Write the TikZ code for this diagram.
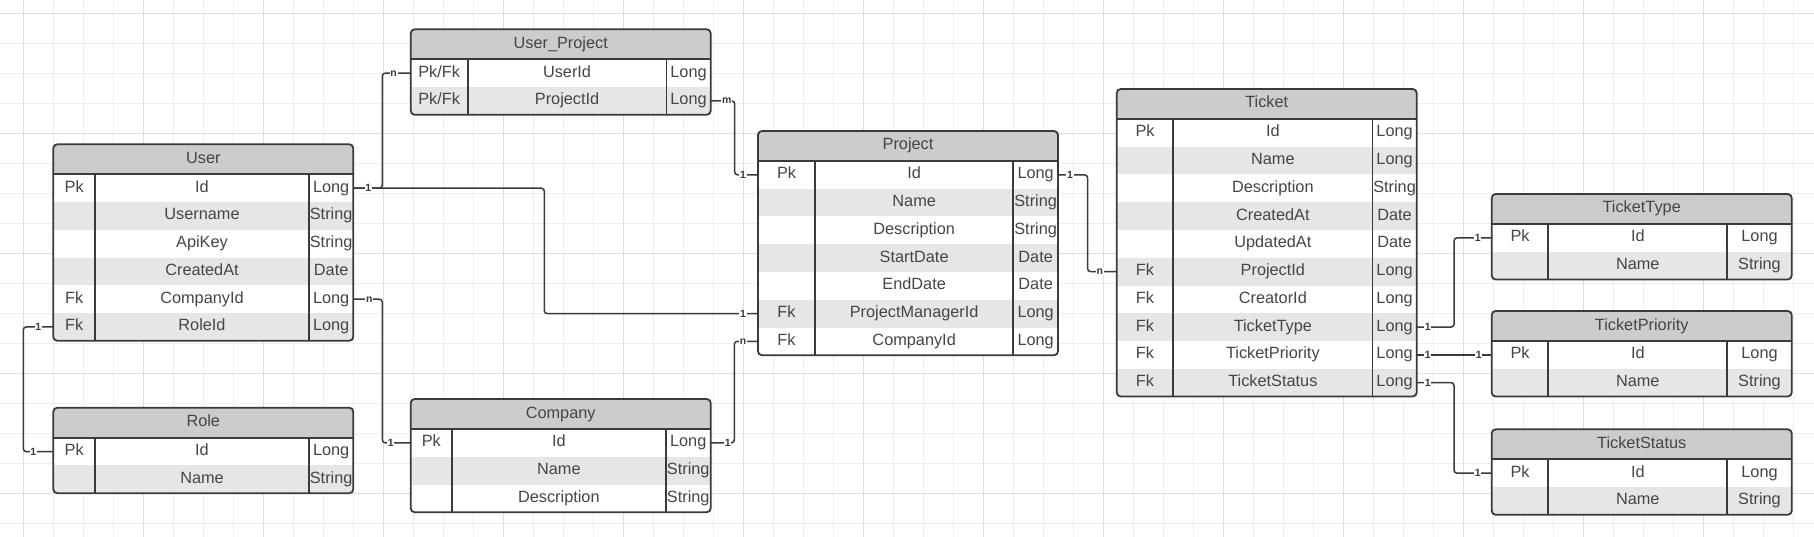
\documentclass[tikz,border=0pt]{standalone}
\usepackage{fontspec}
\setmainfont{Liberation Sans}
\usetikzlibrary{calc}
\definecolor{gridminor}{HTML}{EEEEEE}
\definecolor{gridmajor}{HTML}{DDDDDD}
\definecolor{hdrfill}{HTML}{CCCCCC}
\definecolor{altfill}{HTML}{E6E6E6}
\definecolor{ink}{HTML}{3A3A3A}
\definecolor{txtc}{HTML}{454545}
\newcommand{\erHH}{30}
\newcommand{\erRH}{27.75}
\tikzset{
  border/.style={draw=ink, line width=1.8pt},
  txt/.style={font=\fontsize{16.3}{19}\selectfont, text=txtc, inner sep=0pt, text height=12pt, text depth=4pt},
  rowbox/.style={inner sep=0pt, outer sep=0pt, draw=none},
  conn/.style={draw=ink, line width=1.5pt, rounded corners=3pt},
  lbl/.style={font=\fontsize{10.5}{12}\selectfont\bfseries, text=ink, fill=white, inner sep=0.6pt}
}
\newcommand{\erTable}[9]{%
  \pgfmathsetmacro{\erTH}{\erHH+#8*\erRH}%
  \begin{scope}
    \clip[rounded corners=4pt] (#2,#3) rectangle ++(#4,\erTH);
    \fill[white] (#2,#3) rectangle ++(#4,\erTH);
    \fill[hdrfill] (#2,#3) rectangle ++(#4,\erHH);
    \foreach \cA/\cB/\cC [count=\ri] in {#9} {%
      \ifodd\ri\relax\else
        \fill[altfill] (#2,{#3+\erHH+(\ri-1)*\erRH}) rectangle ++(#4,\erRH);
      \fi
    }
  \end{scope}
  \draw[border, rounded corners=4pt] (#2,#3) rectangle ++(#4,\erTH);
  \draw[border] (#2,{#3+\erHH}) -- ++(#4,0);
  \draw[border] ({#2+#5},{#3+\erHH}) -- ++(0,{#8*\erRH});
  \draw[border] ({#2+#4-#6},{#3+\erHH}) -- ++(0,{#8*\erRH});
  \node[txt] (#1-title) at ({#2+#4/2},{#3+\erHH/2}) {#7};
  \foreach \cA/\cB/\cC [count=\ri] in {#9} {%
    \pgfmathsetmacro{\yc}{#3+\erHH+(\ri-0.5)*\erRH}
    \node[rowbox, minimum width=#4, minimum height=\erRH] (#1-\ri) at ({#2+#4/2},\yc) {};
    \node[txt] (#1-\ri-k) at ({#2+#5/2},\yc) {\cA};
    \node[txt] (#1-\ri-n) at ({#2+#5+(#4-#5-#6)/2},\yc) {\cB};
    \node[txt] (#1-\ri-t) at ({#2+#4-#6/2},\yc) {\cC};
  }
}
\begin{document}
\begin{tikzpicture}[x=1pt,y=-1pt]
\useasboundingbox (0,0) rectangle (1814,537);
\fill[white] (0,0) rectangle (1814,537);
% grid
\foreach \gx in {0,...,59} {\draw[gridminor, line width=1pt] ({23.3+30*\gx},0) -- ++(0,537);}
\foreach \gy in {0,...,17} {\draw[gridminor, line width=1pt] (0,{13.3+30*\gy}) -- ++(1814,0);}
\foreach \gx in {0,...,14} {\draw[gridmajor, line width=1pt] ({23.3+120*\gx},0) -- ++(0,537);}
\foreach \gy in {0,...,4} {\draw[gridmajor, line width=1pt] (0,{13.3+120*\gy}) -- ++(1814,0);}
% tables
\erTable{User}{53.3}{144.3}{300}{41.7}{44.3}{User}{6}{Pk/Id/Long, {}/Username/String, {}/ApiKey/String, {}/CreatedAt/Date, Fk/CompanyId/Long, Fk/RoleId/Long}
\erTable{Role}{53.3}{407.7}{300}{41.7}{44.3}{Role}{2}{Pk/Id/Long, {}/Name/String}
\erTable{UP}{410.7}{29.3}{300}{57}{44.3}{User\_Project}{2}{{Pk/Fk}/UserId/Long, {Pk/Fk}/ProjectId/Long}
\erTable{Company}{410.7}{399}{300}{41.3}{45}{Company}{3}{Pk/Id/Long, {}/Name/String, {}/Description/String}
\erTable{Project}{758}{131}{300}{57}{44.7}{Project}{7}{Pk/Id/Long, {}/Name/String, {}/Description/String, {}/StartDate/Date, {}/EndDate/Date, Fk/ProjectManagerId/Long, Fk/CompanyId/Long}
\erTable{Ticket}{1116.7}{89}{300}{56.6}{44.3}{Ticket}{10}{Pk/Id/Long, {}/Name/Long, {}/Description/String, {}/CreatedAt/Date, {}/UpdatedAt/Date, Fk/ProjectId/Long, Fk/CreatorId/Long, Fk/TicketType/Long, Fk/TicketPriority/Long, Fk/TicketStatus/Long}
\erTable{TT}{1491.7}{194}{300}{56.6}{64.4}{TicketType}{2}{Pk/Id/Long, {}/Name/String}
\erTable{TP}{1491.7}{311}{300}{56.6}{64.4}{TicketPriority}{2}{Pk/Id/Long, {}/Name/String}
\erTable{TS}{1491.7}{429.3}{300}{56.6}{64.4}{TicketStatus}{2}{Pk/Id/Long, {}/Name/String}
% connectors
\draw[conn] (User-1.east) -- ++(29,0) |- (UP-1.west);
\draw[conn] (User-1.east) -- ++(191,0) |- (Project-6.west);
\draw[conn] (UP-2.east) -- ++(24,0) |- (Project-1.west);
\draw[conn] (User-5.east) -- ++(29,0) |- (Company-1.west);
\draw[conn] (User-6.west) -- ++(-30,0) |- (Role-1.west);
\draw[conn] (Company-1.east) -- ++(23.6,0) |- (Project-7.west);
\draw[conn] (Project-1.east) -- ++(29.6,0) |- (Ticket-6.west);
\draw[conn] (Ticket-8.east) -- ++(37.3,0) |- (TT-1.west);
\draw[conn] (Ticket-9.east) -- (Ticket-9.east -| TP-1.west);
\draw[conn] (Ticket-10.east) -- ++(37.3,0) |- (TS-1.west);
% cardinality labels
\node[lbl] (c1a) at ($(User-1.east)+(15,0)$) {1};
\node[lbl] (c1b) at ($(UP-1.west)+(-17,0)$) {n};
\node[lbl] (c2b) at ($(Project-6.west)+(-15,0)$) {1};
\node[lbl] (c3a) at ($(UP-2.east)+(16,0)$) {m};
\node[lbl] (c3b) at ($(Project-1.west)+(-15,0)$) {1};
\node[lbl] (c4a) at ($(User-5.east)+(16,0)$) {n};
\node[lbl] (c4b) at ($(Company-1.west)+(-20,0)$) {1};
\node[lbl] (c5a) at ($(User-6.west)+(-15,0)$) {1};
\node[lbl] (c5b) at ($(Role-1.west)+(-20,0)$) {1};
\node[lbl] (c6a) at ($(Company-1.east)+(17,0)$) {1};
\node[lbl] (c6b) at ($(Project-7.west)+(-15,0)$) {n};
\node[lbl] (c7a) at ($(Project-1.east)+(12,0)$) {1};
\node[lbl] (c7b) at ($(Ticket-6.west)+(-17,0)$) {n};
\node[lbl] (c8a) at ($(Ticket-8.east)+(11,0)$) {1};
\node[lbl] (c8b) at ($(TT-1.west)+(-14,0)$) {1};
\node[lbl] (c9a) at ($(Ticket-9.east)+(11,0)$) {1};
\node[lbl] (c9b) at ($(TP-1.west)+(-13,0)$) {1};
\node[lbl] (c10a) at ($(Ticket-10.east)+(11,0)$) {1};
\node[lbl] (c10b) at ($(TS-1.west)+(-14,0)$) {1};
\end{tikzpicture}
\end{document}
